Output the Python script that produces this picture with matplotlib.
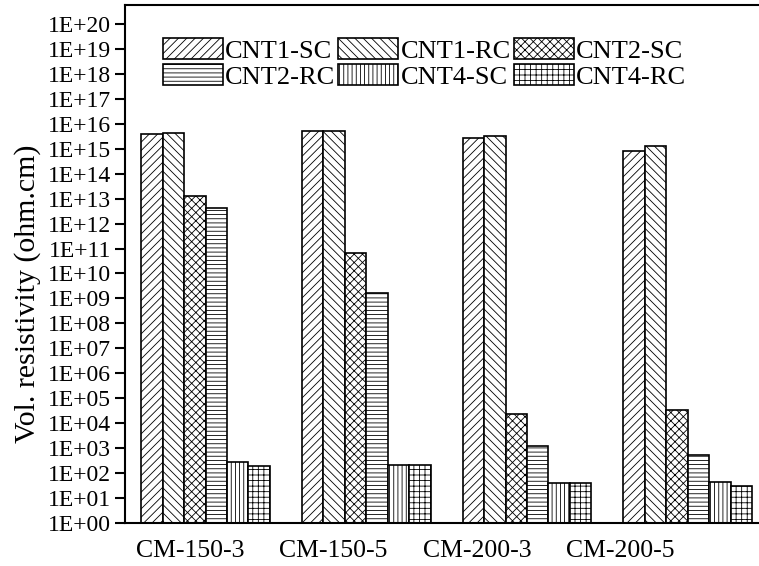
import matplotlib
matplotlib.use('Agg')
import matplotlib.pyplot as plt
import numpy as np
from matplotlib.ticker import FixedLocator, FuncFormatter

plt.rcParams['font.family'] = ['Liberation Serif', 'DejaVu Serif']
plt.rcParams['hatch.linewidth'] = 0.6

samples = ['CM-150-3', 'CM-150-5', 'CM-200-3', 'CM-200-5']
series = ['CNT1-SC', 'CNT1-RC', 'CNT2-SC', 'CNT2-RC', 'CNT4-SC', 'CNT4-RC']

cnt1_sc = [3.9e15, 5.0e15, 2.7e15, 7.9e14]
cnt1_rc = [4.1e15, 5.0e15, 3.2e15, 1.29e15]
cnt2_sc = [1.27e13, 6.4e10, 2.3e4, 3.3e4]
cnt2_rc = [4.3e12, 1.6e9, 1.18e3, 550]
cnt4_sc = [285, 205, 39, 44]
cnt4_rc = [198, 205, 39, 30]

values = [cnt1_sc, cnt1_rc, cnt2_sc, cnt2_rc, cnt4_sc, cnt4_rc]
hatches = ['////', '\\\\\\\\', 'xxxx', '----', '||||', '+++']

fig = plt.figure(figsize=(7.59, 5.66), dpi=100)
ax = fig.add_axes([125 / 759, 43 / 566, 634 / 759, 518 / 566])

x = np.arange(len(samples))
width = 0.8 / len(series)
bars = []
for i, (name, vals, h) in enumerate(zip(series, values, hatches)):
    b = ax.bar(x - 0.4 + width * (i + 0.5), vals, width, bottom=1,
               facecolor='white', edgecolor='black', linewidth=1.2,
               hatch=h, label=name)
    bars.append(b)

ax.set_yscale('log')
ax.set_ylim(1, 10 ** 20.76)
ax.set_xlim(-0.501, 3.444)
ax.yaxis.set_major_locator(FixedLocator([10.0 ** k for k in range(21)]))
ax.yaxis.set_minor_locator(FixedLocator([]))
ax.yaxis.set_major_formatter(FuncFormatter(lambda v, p: '1E+%02d' % int(round(np.log10(v)))))
ax.tick_params(axis='y', direction='out', length=7, width=1.5, labelsize=17, pad=3)

# category labels sit a little left of the groups, as in the original
ax.set_xticks(np.arange(len(samples)) * 0.893 - 0.096)
ax.set_xticklabels(samples)
ax.tick_params(axis='x', length=0, labelsize=18.5, pad=12)

ax.set_ylabel('Vol. resistivity (ohm.cm)', fontsize=21.5)
ax.yaxis.set_label_coords(-0.132, 0.442)

for s in ['left', 'bottom', 'top']:
    ax.spines[s].set_linewidth(1.5)
ax.spines['right'].set_visible(False)

order = [0, 3, 1, 4, 2, 5]
handles = [bars[k] for k in order]
labels = [series[k] for k in order]
ax.legend(handles, labels, ncol=3, loc='upper left',
          bbox_to_anchor=(163 / 759, 1 - 38 / 566), bbox_transform=fig.transFigure,
          frameon=False, fontsize=19, handlelength=2.27, handleheight=0.85,
          handletextpad=0.08, columnspacing=0.12, labelspacing=0.05, borderpad=0,
          borderaxespad=0)

fig.savefig('out.png', dpi=100)
